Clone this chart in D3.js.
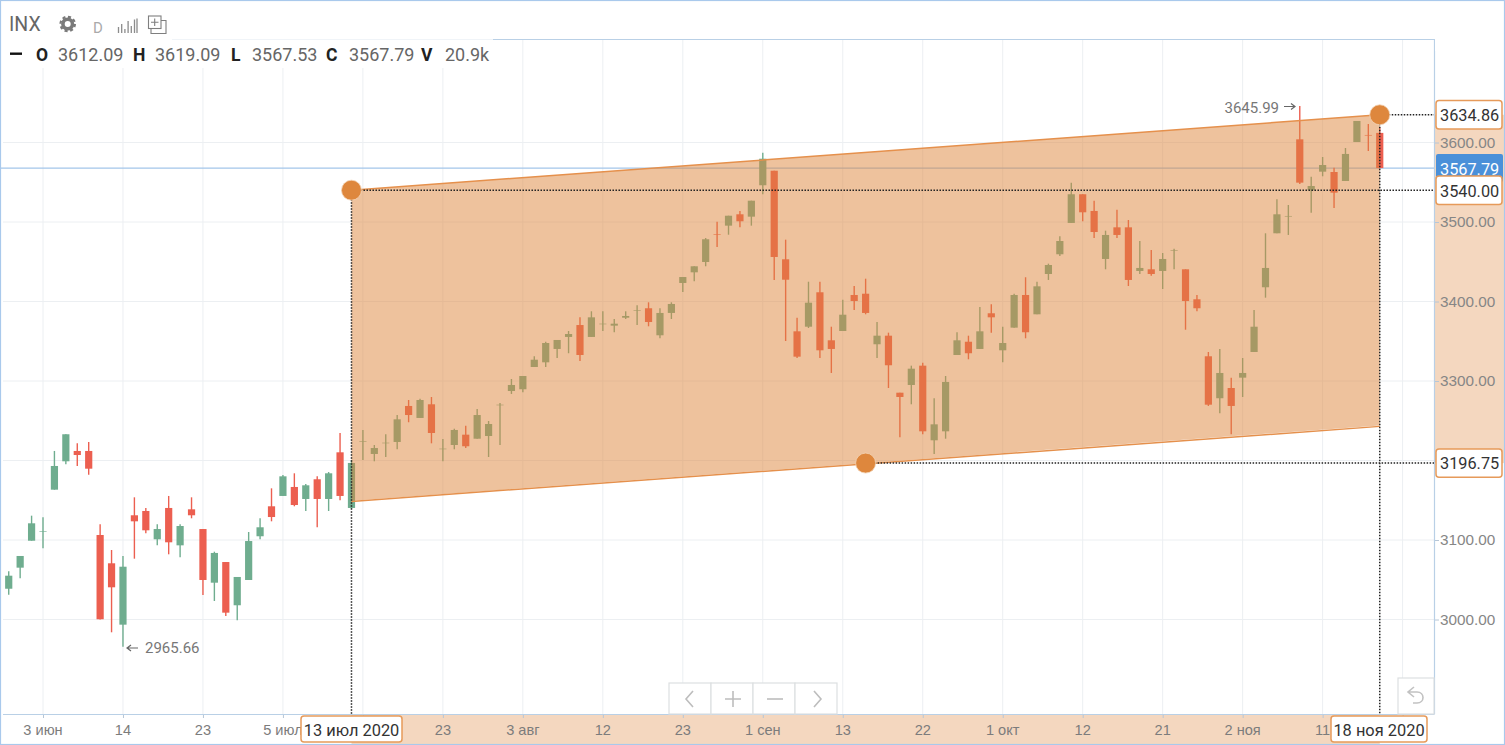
<!DOCTYPE html>
<html>
<head>
<meta charset="utf-8">
<script src="https://cdnjs.cloudflare.com/ajax/libs/d3/7.8.5/d3.min.js"></script>
<style>
html, body { margin: 0; padding: 0; background: #fff; overflow: hidden; }
svg { display: block; font-family: Roboto, sans-serif; }
</style>
</head>
<body>
<div id="chart"></div>
<script>
// Daily candles
const opens = [3025.8,3038.7,3065.2,3099.1,3110.9,3163.3,3199,3212,3212,3106.3,3070.7,2993.5,3131.1,3136.5,3100.9,3140.3,3093.3,3138.6,3113.8,3046.3,3072.3,3017.9,3049.7,3104.7,3142.4,3155.4,3166.7,3151.6,3176.4,3151.6,3210.3,3140.3,3224,3208.2,3222,3223.3,3268.6,3253.5,3270.7,3214.5,3219.5,3232.5,3227.4,3230.8,3269.8,3287.4,3289.6,3317.6,3323.5,3340.3,3355.4,3370.4,3355.4,3371.7,3369.6,3379.6,3388.9,3391.5,3357.5,3385.6,3423.3,3436.7,3449.7,3484.9,3495.4,3509.7,3506.7,3546.2,3564.5,3453.1,3362.5,3368.3,3411.6,3351.2,3362.9,3408.2,3409.8,3346.2,3357,3285.3,3295,3319.3,3225.4,3236.7,3332.7,3349.4,3340.3,3385.2,3338.6,3367.1,3408.2,3383.9,3434.6,3459.4,3498.8,3534.9,3513.9,3453.5,3493.3,3493.3,3438.4,3440.5,3438.4,3464.4,3440.5,3402.8,3331.1,3278.3,3291.2,3304.2,3336.5,3417.9,3485.8,3507.2,3604,3539.9,3563.3,3562.9,3551.6,3600.6,3609.5,3612.09];
const highs = [3052.2,3060.6,3079.9,3130.6,3128.6,3212,3233,3221.6,3223.3,3119.8,3087.4,3079.9,3153.7,3140.3,3119.8,3155.4,3119.8,3153.7,3113.8,3085.3,3072.3,3053.5,3110.1,3127.3,3165,3181.8,3183.9,3170.4,3180.1,3185.5,3234.6,3200.6,3238.4,3219.5,3233,3257.2,3276.1,3277.7,3279.9,3227,3240,3243.8,3264.8,3249.7,3272.3,3302.5,3306.3,3331.1,3349.4,3351.6,3362.9,3380.1,3387.7,3387.7,3378,3387.7,3395.2,3399,3391.5,3399,3430.8,3444.3,3479.9,3500.4,3507.9,3513.9,3526.8,3587.2,3564.5,3477.8,3379.6,3424.9,3424.9,3368.3,3402.3,3419.5,3428.7,3374.2,3360.8,3285.3,3319.3,3323,3278.3,3306.3,3361.3,3357,3393.1,3396.5,3368.3,3409.8,3430.5,3424.9,3447.6,3482,3549.5,3534.9,3526.8,3489.1,3515.5,3502.5,3476.1,3464.8,3461,3466.4,3440.5,3408.2,3336.5,3340.3,3304.2,3328.9,3389.3,3485.8,3528.6,3521.4,3645.99,3557,3581.8,3568.3,3593.1,3627.1,3623.3,3619.09];
const lows = [3023.3,3031.2,3051.8,3099.1,3089.6,3163.3,3195.2,3193.1,3182.1,3000,2983.9,2965.66,3076.5,3108.4,3093.3,3082,3078.2,3127.3,3030.8,3023.3,3004.4,2999,3049.7,3100.9,3123.5,3155.4,3142.4,3136.5,3116,3136.5,3149.9,3139,3200.6,3199,3204.4,3214.1,3248.1,3253.5,3221.6,3199,3214.1,3215.7,3227.4,3204.4,3219.5,3283.7,3285.8,3317.6,3317.6,3328.9,3334.9,3325.2,3355.4,3362.9,3361.3,3378,3370.4,3368.8,3353.7,3378,3412,3425.4,3444.3,3468.6,3484,3493.3,3495.4,3534.9,3427.1,3350.3,3328.9,3366.7,3328.9,3310.1,3362.9,3389.3,3383.9,3328.9,3291.2,3229.2,3270.7,3233,3208.2,3227.4,3332.7,3327.3,3340.3,3360.8,3323.5,3367.1,3353.7,3383.9,3427.1,3457.2,3498.8,3500.9,3479.9,3440.5,3479.9,3419.5,3434.6,3432.5,3415.7,3440.5,3364.5,3387.7,3268.6,3259.4,3233,3279.9,3336.5,3404.8,3485.8,3483.7,3547.8,3511.7,3557.5,3517.6,3551.6,3600.6,3589.3,3567.53];
const closes = [3047.5,3055.1,3079.9,3121,3111.3,3193.1,3233,3206.9,3189.7,3000.3,3040.5,3066.4,3123.5,3112.2,3113.8,3097.1,3117.6,3131.1,3049.7,3083.7,3008.6,3053.5,3098.7,3116,3128.9,3180.1,3144,3168.8,3151.6,3183.9,3155.4,3196.9,3224.5,3215.7,3222.4,3251.8,3257.2,3276.1,3234.6,3214.9,3238.4,3217.9,3257.2,3245.9,3270.2,3295,3306.3,3326.8,3347.8,3351.6,3359.1,3332.7,3380.1,3372.1,3372.1,3381.8,3389.3,3374.2,3385.6,3396.9,3430.8,3444.3,3478.3,3484.5,3507.9,3500.9,3526.8,3579.6,3456,3427.4,3330.6,3398.5,3338.6,3340.3,3383.4,3400.6,3385.6,3357,3319.8,3279.9,3315.5,3236.7,3245.5,3298.8,3351.2,3334.9,3362.5,3380.1,3347.8,3408.2,3361.3,3419.1,3445.9,3476.1,3534.9,3512.2,3487.4,3483.7,3483.7,3427.1,3442.2,3434.6,3453.5,3464.8,3400.6,3391.5,3270.2,3310.1,3268.6,3310.1,3368.3,3442.2,3509.7,3507.6,3549.5,3545.3,3571.7,3536.9,3585.6,3627.1,3609,3567.79];

// Axis labels (empty where the picture hides the label behind a tag)
const tickIndex = [4,11,18,25,32,39,46,53,60,67,74,81,88,95,102,109,116,123];
const tickLabels = ["3 июн","14","23","5 июл","","23","3 авг","12","23","1 сен","13","22","1 окт","12","21","2 ноя","11",""];
const priceTicks = [3000,3100,3200,3300,3400,3500,3600];
const hiddenPrice = 3200;

// Drawn channel: the three anchor points
const anchorIndex = [31,121,76];
const anchorPrice = [3540.00,3634.86,3196.75];
const anchorDate = ["13 июл 2020","18 ноя 2020"];
const dateTagX = [301,1331];
const dateTagW = [101,96];

const lastPrice = 3567.79;
const legendKeys = ["O","H","L","C","V"];
const legendVals = ["3612.09","3619.09","3567.53","3567.79","20.9k"];
const legendKeyX = [36,133,231,326,421];
const legendValX = [58,155,252,349,445];

const width = 1505, height = 745;
const plotRight = 1434, plotBottom = 714, plotTop = 39;

const up = "#6fad8f", down = "#ec5f50", orange = "#dd863c";

const x = d3.scaleLinear().domain([4,123]).range([43,1402.6]);
const y = d3.scaleLinear().domain([3000,3600]).range([619.5,142.5]);

const svg = d3.select("#chart").append("svg")
    .attr("width", width)
    .attr("height", height);

svg.append("rect").attr("width", width).attr("height", height).attr("fill", "#fff");

// Grid
svg.append("g").selectAll("line").data(tickIndex).enter().append("line")
    .attr("x1", d => x(d)).attr("x2", d => x(d))
    .attr("y1", plotTop).attr("y2", plotBottom)
    .attr("stroke", "#eceff2");
svg.append("g").selectAll("line").data(priceTicks).enter().append("line")
    .attr("x1", 3).attr("x2", plotRight)
    .attr("y1", d => y(d)).attr("y2", d => y(d))
    .attr("stroke", "#eceff2");

// Last price line
svg.append("line")
    .attr("x1", 0).attr("x2", plotRight)
    .attr("y1", y(lastPrice)).attr("y2", y(lastPrice))
    .attr("stroke", "#a3c6ea").attr("stroke-width", 1.2);

// Candles
const candles = svg.append("g").selectAll("g").data(opens).enter().append("g")
    .attr("fill", (d, i) => closes[i] >= d ? up : down)
    .attr("stroke", (d, i) => closes[i] >= d ? up : down);
candles.append("line")
    .attr("x1", (d, i) => x(i)).attr("x2", (d, i) => x(i))
    .attr("y1", (d, i) => y(highs[i])).attr("y2", (d, i) => y(lows[i]))
    .attr("stroke-width", 1.4);
candles.append("rect")
    .attr("x", (d, i) => x(i) - 3.6)
    .attr("width", 7.2)
    .attr("y", (d, i) => y(Math.max(d, closes[i])))
    .attr("height", (d, i) => Math.max(Math.abs(y(d) - y(closes[i])), 0.6))
    .attr("stroke", "none");

// Channel: upper edge through first two anchors, lower edge parallel through the third
const slope = (anchorPrice[1] - anchorPrice[0]) / (anchorIndex[1] - anchorIndex[0]);
const lowerAt = i => anchorPrice[2] + slope * (i - anchorIndex[2]);
const i0 = anchorIndex[0], i1 = anchorIndex[1];
svg.append("polygon")
    .attr("points", [[x(i0), y(anchorPrice[0])], [x(i1), y(anchorPrice[1])], [x(i1), y(lowerAt(i1))], [x(i0), y(lowerAt(i0))]].join(" "))
    .attr("fill", orange).attr("fill-opacity", 0.5);
svg.append("line")
    .attr("x1", x(i0)).attr("y1", y(anchorPrice[0])).attr("x2", x(i1)).attr("y2", y(anchorPrice[1]))
    .attr("stroke", "#e5904c").attr("stroke-width", 1.5);
svg.append("line")
    .attr("x1", x(i0)).attr("y1", y(lowerAt(i0)) + 0.6).attr("x2", x(i1)).attr("y2", y(lowerAt(i1)) + 1)
    .attr("stroke", "#e5904c").attr("stroke-width", 1.5);

// Axis highlight bands
svg.append("rect")
    .attr("x", x(i0)).attr("y", plotBottom + 1)
    .attr("width", x(i1) - x(i0)).attr("height", 29)
    .attr("fill", orange).attr("fill-opacity", 0.33);
svg.append("rect")
    .attr("x", plotRight + 1).attr("y", y(anchorPrice[1]))
    .attr("width", width - plotRight - 1).attr("height", y(anchorPrice[2]) - y(anchorPrice[1]))
    .attr("fill", orange).attr("fill-opacity", 0.33);

// Axes
const xAxis = d3.axisBottom(x).tickValues(tickIndex)
    .tickFormat((d, i) => tickLabels[i]).tickSize(4).tickPadding(7);
const yAxis = d3.axisRight(y).tickValues(priceTicks)
    .tickFormat(d => d === hiddenPrice ? "" : d3.format(".2f")(d)).tickSize(5).tickPadding(1);
const gx = svg.append("g").attr("transform", `translate(0,${plotBottom})`).call(xAxis);
const gy = svg.append("g").attr("transform", `translate(${plotRight},0)`).call(yAxis);
gx.select(".domain").remove();
gy.select(".domain").remove();
gx.selectAll(".tick line").attr("stroke", "#b6c6d6");
gy.selectAll(".tick line").attr("stroke", "#b6c6d6");
gx.selectAll("text").attr("fill", "#7c7c7c").attr("dx", "-0.5").style("font-size", "14.6px");
gy.selectAll("text").attr("fill", "#868686").style("font-size", "15.3px");
svg.append("path")
    .attr("d", `M3,${plotBottom}.5H${plotRight}.5M${plotRight}.5,${plotBottom}V${plotTop}`)
    .attr("fill", "none").attr("stroke", "#b9d0e6").attr("stroke-width", 1.2);

// Dotted guides
const guides = [
    [x(i0), y(anchorPrice[0]), x(i0), plotBottom],
    [x(i1), y(anchorPrice[1]), x(i1), plotBottom],
    [x(i0), y(anchorPrice[0]), plotRight, y(anchorPrice[0])],
    [x(i1), y(anchorPrice[1]), plotRight, y(anchorPrice[1])],
    [x(anchorIndex[2]), y(anchorPrice[2]), plotRight, y(anchorPrice[2])]
];
svg.append("g").selectAll("line").data(guides).enter().append("line")
    .attr("x1", d => d[0]).attr("y1", d => d[1]).attr("x2", d => d[2]).attr("y2", d => d[3])
    .attr("stroke", "#222").attr("stroke-width", 1.5).attr("stroke-dasharray", "1.5,1.5");

// Anchor handles
svg.append("g").selectAll("circle").data(anchorIndex).enter().append("circle")
    .attr("cx", d => x(d))
    .attr("cy", (d, i) => y(anchorPrice[i]))
    .attr("r", 10)
    .attr("fill", "#de873d").attr("stroke", "#f2d3b5").attr("stroke-width", 0.8);

// Last price tag
svg.append("rect").attr("x", 1436).attr("y", 154).attr("width", 67).attr("height", 28).attr("rx", 2).attr("fill", "#4a90d9");
svg.append("text").attr("x", 1440).attr("y", y(lastPrice) + 6.5).attr("fill", "#fff")
    .style("font-size", "16.3px").text(lastPrice.toFixed(2));

// Price tags on the anchors
svg.append("g").selectAll("g").data(anchorPrice).enter().append("g").each(function(d) {
    const g = d3.select(this);
    g.append("rect").attr("x", 1436).attr("y", y(d) - 14.2).attr("width", 66).attr("height", 28.4)
        .attr("rx", 3).attr("fill", "#fff").attr("stroke", "#e69a5a").attr("stroke-width", 1.5);
    g.append("text").attr("x", 1440).attr("y", y(d) + 6.3).attr("fill", "#333")
        .style("font-size", "16.3px").text(d.toFixed(2));
});

// Date tags on the anchors
svg.append("g").selectAll("g").data(anchorDate).enter().append("g").each(function(d, i) {
    const g = d3.select(this);
    g.append("rect").attr("x", dateTagX[i]).attr("y", 716).attr("width", dateTagW[i]).attr("height", 26)
        .attr("rx", 3).attr("fill", "#fff").attr("stroke", "#e69a5a").attr("stroke-width", 1.5);
    g.append("text").attr("x", dateTagX[i] + dateTagW[i] / 2).attr("y", 736).attr("text-anchor", "middle").attr("fill", "#333")
        .style("font-size", "16.4px").text(d);
});

// High / low notes
const noteColor = "#777";
svg.append("text").attr("x", 145).attr("y", 653).attr("fill", noteColor).style("font-size", "15px").text("2965.66");
svg.append("path").attr("d", "M138,648H127M131,645L127,648L131,651").attr("fill", "none").attr("stroke", "#666").attr("stroke-width", 1.2);
svg.append("text").attr("x", 1279).attr("y", 113).attr("text-anchor", "end").attr("fill", noteColor).style("font-size", "15px").text("3645.99");
svg.append("path").attr("d", "M1284,106.5H1295M1291,103.5L1295,106.5L1291,109.5").attr("fill", "none").attr("stroke", "#666").attr("stroke-width", 1.2);

// Zoom buttons
const btnX = [669,711,753,795];
svg.append("g").selectAll("rect").data(btnX).enter().append("rect")
    .attr("x", d => d).attr("y", 683).attr("width", 42).attr("height", 31)
    .attr("fill", "#fff").attr("stroke", "#dddfe1").attr("stroke-width", 1.2);
const btnIcons = ["M693,691L686,699L693,707", "M725,699H741M733,691V707", "M767,699H783", "M814,691L821,699L814,707"];
svg.append("g").selectAll("path").data(btnIcons).enter().append("path")
    .attr("d", d => d).attr("fill", "none").attr("stroke", "#bdbdbd").attr("stroke-width", 1.6);

// Undo button
svg.append("rect").attr("x", 1398).attr("y", 678).attr("width", 36).attr("height", 36)
    .attr("fill", "#fff").attr("stroke", "#dddfe1").attr("stroke-width", 1.2);
svg.append("path").attr("d", "M1414,687L1408,692L1414,697M1408,692H1417C1425,692 1425,703 1417,703H1413")
    .attr("fill", "none").attr("stroke", "#c2c2c2").attr("stroke-width", 1.6);

// Header
svg.append("rect").attr("x", 1).attr("y", 1).attr("width", plotRight).attr("height", 38).attr("fill", "#fff");
svg.append("rect").attr("x", plotRight + 1).attr("y", 1).attr("width", 69).attr("height", 50).attr("fill", "#fff");
svg.append("rect").attr("x", 3).attr("y", 39).attr("width", 497).attr("height", 29).attr("fill", "#fff");
svg.append("line").attr("x1", 172).attr("x2", 493).attr("y1", 39.5).attr("y2", 39.5).attr("stroke", "#f0f4f8");
svg.append("line").attr("x1", 493).attr("x2", plotRight + 0.5).attr("y1", 39.5).attr("y2", 39.5).attr("stroke", "#b9d0e6").attr("stroke-width", 1.2);

svg.append("text").attr("x", 9).attr("y", 31).attr("fill", "#666").style("font-size", "19.5px").text("INX");

// Gear
svg.append("circle").attr("cx", 67.7).attr("cy", 24).attr("r", 4.8).attr("fill", "none").attr("stroke", "#7a7a7a").attr("stroke-width", 3.6);
svg.append("circle").attr("cx", 67.7).attr("cy", 24).attr("r", 7.2).attr("fill", "none").attr("stroke", "#7a7a7a").attr("stroke-width", 2.2).attr("stroke-dasharray", "3.1,2.56");

svg.append("text").attr("x", 93).attr("y", 33).attr("fill", "#aaa").style("font-size", "15px").text("D");

// Bars icon
svg.append("path").attr("d", "M118.5,33V27M121.7,33V24M124.9,33V29M128.1,33V21M131.3,33V26M134.5,33V19.5M137,33V18.5")
    .attr("fill", "none").attr("stroke", "#8c8c8c").attr("stroke-width", 1.3);

// Compare icon
svg.append("rect").attr("x", 148.5).attr("y", 16).attr("width", 12.5).attr("height", 12.5).attr("fill", "none").attr("stroke", "#7f7f7f").attr("stroke-width", 1.1);
svg.append("path").attr("d", "M151,29V33.5H166V20.5H161M151,22.2H158.5M154.7,18.5V26")
    .attr("fill", "none").attr("stroke", "#7f7f7f").attr("stroke-width", 1.1);

// OHLC legend
svg.append("rect").attr("x", 10).attr("y", 52.5).attr("width", 12).attr("height", 2.4).attr("fill", "#111");
svg.append("g").selectAll("text").data(legendKeys).enter().append("text")
    .attr("x", (d, i) => legendKeyX[i]).attr("y", 60.5)
    .attr("fill", "#222").style("font-size", "17.5px").style("font-weight", 700).text(d => d);
svg.append("g").selectAll("text").data(legendVals).enter().append("text")
    .attr("x", (d, i) => legendValX[i]).attr("y", 60.5)
    .attr("fill", "#666").style("font-size", "18px").text(d => d);

// Outer frame
svg.append("rect").attr("x", 0.5).attr("y", 0.5).attr("width", width - 1).attr("height", height - 1)
    .attr("fill", "none").attr("stroke", "#a9c9ec").attr("stroke-width", 1.2);
</script>
</body>
</html>
